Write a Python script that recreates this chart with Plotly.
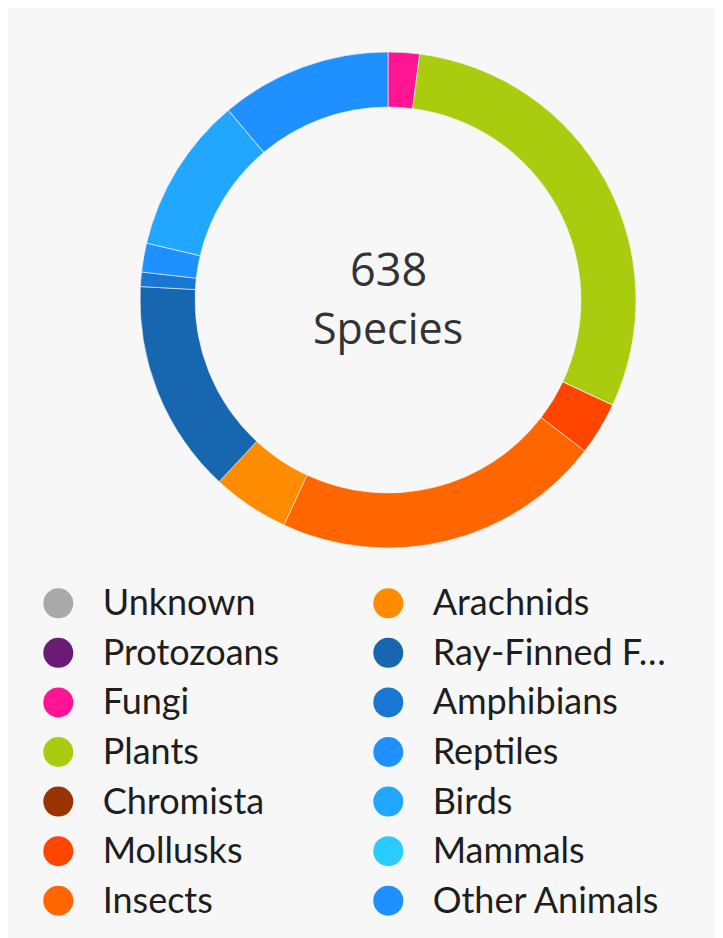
import plotly.graph_objects as go

categories = ["Unknown", "Protozoans", "Fungi", "Plants", "Chromista", "Mollusks", "Insects",
              "Arachnids", "Ray-Finned F…", "Amphibians", "Reptiles", "Birds", "Mammals", "Other Animals"]
species_counts = [0, 0, 13, 191, 0, 22, 137, 32, 89, 6, 12, 65, 0, 71]
colors = ["#A9A9A9", "#6A1B76", "#FF1493", "#AACC0E", "#993300", "#FF4500", "#FF6600",
          "#FF8C00", "#1666B0", "#1976D2", "#1E90FF", "#22A7FF", "#29CCFF", "#1E90FF"]
total_label = "638"
total_caption = "Species"

W, H = 723, 938
OFF = 8  # page body margin
fig = go.Figure()

fig.add_trace(go.Pie(
    labels=categories,
    values=species_counts,
    marker=dict(colors=colors, line=dict(color="#f7f7f7", width=0.6)),
    hole=0.778,
    sort=False,
    direction="clockwise",
    rotation=0,
    textinfo="none",
    showlegend=False,
    domain=dict(x=[(140 - OFF) / W, (636 - OFF) / W], y=[1 - (548 - OFF) / H, 1 - (52 - OFF) / H]),
))

# custom two-column legend drawn on a hidden axis: column index / row index
rows_per_col = 7
cols = [i // rows_per_col for i in range(len(categories))]
rows = [i % rows_per_col for i in range(len(categories))]
text_offset = 0.1345
px_per_col = 330.0
px_per_row = 49.57
text_drop = 3.0 / px_per_row

fig.add_trace(go.Scatter(
    x=cols, y=rows, mode="markers",
    marker=dict(size=30, color=colors, line=dict(width=0)),
    showlegend=False, hoverinfo="skip",
))
fig.add_trace(go.Scatter(
    x=[c + text_offset for c in cols], y=[r + text_drop for r in rows], mode="text",
    text=categories, textposition="middle right",
    textfont=dict(family="Lato", size=36, color="#1e1e1e"),
    showlegend=False, hoverinfo="skip",
))

x0 = -(58.3 - OFF) / px_per_col
y_top = -(603.3 - OFF) / px_per_row

fig.update_layout(
    width=W, height=H,
    margin=dict(l=0, r=0, t=0, b=0),
    paper_bgcolor="#f7f7f7",
    plot_bgcolor="rgba(0,0,0,0)",
    xaxis=dict(range=[x0, x0 + W / px_per_col], visible=False, fixedrange=True),
    yaxis=dict(range=[y_top + H / px_per_row, y_top], visible=False, fixedrange=True),
    annotations=[
        dict(text=total_label, x=(388 - OFF) / W, y=1 - (269 - OFF) / H, xref="paper", yref="paper",
             showarrow=False, xanchor="center", yanchor="middle",
             font=dict(family="Open Sans", size=45, color="#333333")),
        dict(text=total_caption, x=(388 - OFF) / W, y=1 - (328 - OFF) / H, xref="paper", yref="paper",
             showarrow=False, xanchor="center", yanchor="middle",
             font=dict(family="Open Sans", size=43, color="#333333")),
    ],
)

fig.write_html("out.html")
